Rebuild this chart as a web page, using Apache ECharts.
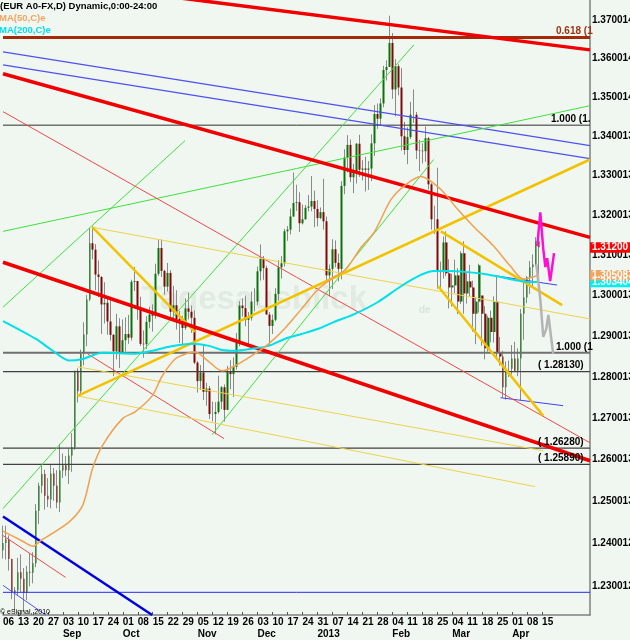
<!DOCTYPE html>
<html>
<head>
<meta charset="utf-8">
<script src="https://cdn.jsdelivr.net/npm/echarts@6/dist/echarts.min.js"></script>
<style>
html,body{margin:0;padding:0;background:#F0F7F0;}
#chart{width:630px;height:640px;}
</style>
</head>
<body>
<div id="chart"></div>
<script>
// ---------- categories (trading days) ----------
const startDate = '2012-08-06';
const categoryCount = 197;
const lastLabelIndex = 180;
const monthMarks = {'2012-09-03':'Sep','2012-10-01':'Oct','2012-11-05':'Nov','2012-12-03':'Dec',
  '2012-12-31':'2013','2013-02-04':'Feb','2013-03-04':'Mar','2013-04-01':'Apr'};

// ---------- daily candles, EUR A0-FX ----------
const openP = [
 1.2385,1.2402,1.2411,1.2364,1.2287,1.2291,1.2333,1.2318,1.2285,1.2334,1.2332,1.2354,1.2478,1.2538,1.2566,1.2514,1.2505,1.2567,1.2538,1.2498,
 1.2574,1.2587,1.2575,1.2610,1.2630,1.2815,1.2765,1.2856,1.2904,1.2990,1.3130,1.3114,1.3052,1.3046,1.2978,1.2982,1.2936,1.2903,1.2863,1.2924,
 1.2858,1.2890,1.2905,1.2896,1.3034,1.3036,1.2968,1.2881,1.2880,1.2935,1.2953,1.2950,1.3054,1.3118,1.3061,1.3022,1.3056,1.2960,1.2976,1.2942,1.2938,1.2920,1.2968,1.2960,1.2945,
 1.2835,1.2790,1.2811,1.2764,1.2772,1.2710,1.2710,1.2715,1.2740,1.2775,1.2720,1.2812,1.2807,1.2825,1.2885,1.2975,1.2969,1.2940,1.2945,1.2985,
 1.2985,1.3060,1.3091,1.3068,1.2953,1.2925,1.2940,1.3004,1.3070,1.3080,1.3160,1.3164,1.3197,1.3231,1.3233,1.3180,1.3190,1.3219,1.3222,1.3236,
 1.3216,1.3193,1.3208,1.3185,1.3050,1.3066,1.3115,1.3081,1.3066,1.3274,1.3346,1.3378,1.3296,1.3306,1.3381,1.3315,1.3318,1.3315,1.3318,1.3382,1.3457,1.3445,1.3484,1.3570,1.3578,
 1.3640,1.3520,1.3580,1.3525,1.3400,1.3365,1.3398,1.3455,1.3455,1.3364,1.3363,1.3362,1.3395,1.3278,1.3190,1.3190,1.3060,1.3058,1.3132,1.3055,
 1.3020,1.3025,1.3050,1.2985,1.3105,1.3005,1.3035,1.3020,1.2955,1.2985,1.3000,1.2955,1.2870,1.2945,1.2910,1.2985,1.2860,1.2850,1.2775,1.2820,
 1.2820,1.2845,1.2815,1.2845,1.2955,1.2995,1.3045,1.3070,1.3077,1.3135
];
const highP = [
 1.2443,1.2443,1.2420,1.2365,1.2298,1.2367,1.2375,1.2343,1.2348,1.2378,1.2380,1.2494,1.2545,1.2590,1.2576,1.2556,1.2590,1.2580,1.2575,1.2638,
 1.2615,1.2609,1.2626,1.2664,1.2815,1.2821,1.2867,1.2934,1.3001,1.3168,1.3172,1.3128,1.3087,1.3048,1.3033,1.2992,1.2997,1.2905,1.2955,1.2944,
 1.2941,1.2946,1.2952,1.3039,1.3071,1.3036,1.2997,1.2914,1.2949,1.2972,1.2978,1.3079,1.3140,1.3139,1.3064,1.3081,1.3063,1.3024,1.3013,1.2962,1.2950,1.2993,1.3007,1.2975,1.2963,
 1.2839,1.2829,1.2877,1.2786,1.2778,1.2740,1.2739,1.2803,1.2778,1.2782,1.2827,1.2841,1.2848,1.2908,1.2986,1.2993,1.3000,1.2959,1.3010,1.3018,
 1.3072,1.3127,1.3098,1.3074,1.2959,1.2953,1.3018,1.3088,1.3098,1.3166,1.3173,1.3217,1.3308,1.3277,1.3258,1.3227,1.3226,1.3251,1.3299,1.3262,
 1.3238,1.3220,1.3292,1.3197,1.3077,1.3140,1.3137,1.3104,1.3286,1.3367,1.3403,1.3392,1.3330,1.3383,1.3404,1.3339,1.3348,1.3337,1.3405,1.3480,1.3484,1.3497,1.3581,1.3595,1.3711,
 1.3666,1.3598,1.3585,1.3575,1.3437,1.3423,1.3488,1.3520,1.3462,1.3391,1.3382,1.3425,1.3398,1.3281,1.3224,1.3320,1.3084,1.3147,1.3160,1.3090,
 1.3054,1.3089,1.3068,1.3110,1.3135,1.3055,1.3076,1.3037,1.2995,1.3079,1.3000,1.2974,1.2950,1.2963,1.2998,1.3050,1.2898,1.2864,1.2838,1.2840,
 1.2878,1.2886,1.2870,1.2967,1.3034,1.3048,1.3086,1.3102,1.3145,1.3148
];
const lowP = [
 1.2365,1.2363,1.2337,1.2270,1.2241,1.2280,1.2287,1.2240,1.2268,1.2300,1.2307,1.2345,1.2447,1.2520,1.2481,1.2487,1.2484,1.2502,1.2484,1.2475,
 1.2556,1.2561,1.2542,1.2571,1.2624,1.2738,1.2759,1.2828,1.2875,1.2986,1.3090,1.3013,1.2996,1.2905,1.2931,1.2903,1.2889,1.2802,1.2843,1.2822,
 1.2857,1.2862,1.2881,1.2889,1.3011,1.2940,1.2876,1.2847,1.2868,1.2919,1.2911,1.2943,1.3049,1.3046,1.3002,1.3010,1.2944,1.2942,1.2916,1.2883,1.2877,1.2915,1.2941,1.2908,1.2831,
 1.2762,1.2769,1.2744,1.2730,1.2698,1.2692,1.2661,1.2711,1.2722,1.2692,1.2720,1.2770,1.2751,1.2818,1.2875,1.2948,1.2924,1.2879,1.2938,1.2961,
 1.2976,1.3037,1.3039,1.2953,1.2877,1.2905,1.2936,1.2987,1.3042,1.3072,1.3136,1.3152,1.3196,1.3211,1.3158,1.3177,1.3189,1.3210,1.3210,1.3170,
 1.3172,1.3190,1.3164,1.3032,1.2998,1.3016,1.3070,1.3035,1.3040,1.3253,1.3308,1.3284,1.3256,1.3280,1.3297,1.3288,1.3260,1.3264,1.3286,1.3350,1.3419,1.3427,1.3474,1.3543,1.3578,
 1.3496,1.3451,1.3505,1.3364,1.3353,1.3329,1.3393,1.3434,1.3342,1.3311,1.3331,1.3335,1.3265,1.3164,1.3153,1.3017,1.3018,1.3042,1.3048,1.2968,
 1.2973,1.3006,1.2954,1.2979,1.2955,1.2980,1.2998,1.2911,1.2880,1.2958,1.2876,1.2843,1.2862,1.2885,1.2884,1.2848,1.2828,1.2750,1.2745,1.2800,
 1.2806,1.2812,1.2802,1.2744,1.2891,1.2981,1.3004,1.3022,1.3072,1.3043
];
const closeP = [
 1.2402,1.2411,1.2364,1.2287,1.2291,1.2333,1.2318,1.2285,1.2334,1.2332,1.2354,1.2478,1.2538,1.2566,1.2514,1.2505,1.2567,1.2538,1.2498,1.2574,
 1.2587,1.2575,1.2610,1.2630,1.2815,1.2765,1.2856,1.2904,1.2990,1.3130,1.3114,1.3052,1.3046,1.2978,1.2982,1.2936,1.2903,1.2863,1.2924,1.2858,
 1.2890,1.2905,1.2896,1.3034,1.3036,1.2968,1.2881,1.2880,1.2935,1.2953,1.2950,1.3054,1.3118,1.3061,1.3022,1.3056,1.2960,1.2976,1.2942,1.2938,1.2920,1.2968,1.2960,1.2945,1.2835,
 1.2790,1.2811,1.2764,1.2772,1.2710,1.2710,1.2715,1.2740,1.2775,1.2720,1.2812,1.2807,1.2825,1.2885,1.2975,1.2969,1.2940,1.2945,1.2985,1.2985,
 1.3060,1.3091,1.3068,1.2953,1.2925,1.2940,1.3004,1.3070,1.3080,1.3160,1.3164,1.3197,1.3231,1.3233,1.3180,1.3190,1.3219,1.3222,1.3236,1.3216,
 1.3193,1.3208,1.3185,1.3050,1.3066,1.3115,1.3081,1.3066,1.3274,1.3346,1.3378,1.3296,1.3306,1.3381,1.3315,1.3318,1.3315,1.3318,1.3382,1.3457,1.3445,1.3484,1.3570,1.3578,1.3640,
 1.3520,1.3580,1.3525,1.3400,1.3365,1.3398,1.3455,1.3455,1.3364,1.3363,1.3362,1.3395,1.3278,1.3190,1.3190,1.3060,1.3058,1.3132,1.3055,1.3020,
 1.3025,1.3050,1.2985,1.3105,1.3005,1.3035,1.3020,1.2955,1.2985,1.3075,1.2955,1.2870,1.2945,1.2910,1.2985,1.2860,1.2850,1.2775,1.2820,1.2820,
 1.2845,1.2815,1.2845,1.2955,1.2995,1.3045,1.3070,1.3077,1.3135,1.3120
];

// ---------- moving averages: [bar index, price] ----------
const ma50Pts = [[0,1.2430],[6.6,1.2406],[10,1.2394],[12.3,1.2406],[16.6,1.2425],[22.3,1.2453],[26.6,1.2491],[29.9,1.2579],[33.2,1.2634],[39.9,1.2699],[44.2,1.2716],[49.8,1.2754],[53.2,1.2803],[57.5,1.2844],[62.1,1.2859],[64.1,1.2861],[68.8,1.2837],[73.1,1.2815],[77.4,1.2827],[83.1,1.2852],[88.7,1.2881],[94,1.2918],[99.7,1.2967],[105.3,1.3016],[110.6,1.3046],[114.6,1.3066],[119.6,1.3120],[123.9,1.3157],[129.6,1.3240],[134.6,1.3278],[139.5,1.3298],[146.2,1.3265],[151.8,1.3215],[157.1,1.3172],[163.8,1.3123],[169.4,1.3073],[173.8,1.3041],[179,1.3051]];
const ma200Pts = [[0,1.2937],[11,1.2893],[16.6,1.2864],[22.3,1.2840],[26.6,1.2844],[33.2,1.2859],[44.2,1.2857],[49.8,1.2864],[55.5,1.2874],[63.1,1.2881],[68.8,1.2876],[73.1,1.2866],[77.4,1.2864],[83.1,1.2869],[88.7,1.2876],[94,1.2893],[99.7,1.2905],[105.3,1.2918],[110.6,1.2935],[117.3,1.2954],[125.2,1.2984],[132.9,1.3023],[139.5,1.3051],[143.9,1.3061],[149.5,1.3061],[155.1,1.3058],[161.1,1.3053],[166.1,1.3046],[171.1,1.3038],[176.1,1.3033],[179,1.3034]];

// ---------- drawn trend lines: [bar index, price] ----------
const redThickTop = [[56.5,1.37599],[196,1.36222]];
const redThickMid = [[0,1.35603],[196,1.31447]];
const redThickLow = [[0,1.30825],[196,1.25976]];
const redThin1 = [[0,1.34629],[196,1.26407]];
const redThin2 = [[28.2,1.28565],[73.8,1.26508]];
const redThin3 = [[0,1.24195],[20.9,1.23210]];
const blueUp1 = [[0,1.36170],[196,1.33763]];
const blueUp2 = [[0,1.35835],[196,1.33433]];
const blueShort1 = [[165.1,1.30481],[185.0,1.30259]];
const blueShort2 = [[166.1,1.27496],[187.0,1.27303]];
const blueThick = [[0,1.24644],[49.8,1.22331]];
const blueThin = [[0,1.23023],[14.3,1.22331]];
const greenLong = [[0,1.31597],[196,1.34782]];
const greenA = [[0,1.29712],[60.8,1.33890]];
const greenB = [[0,1.24833],[137.2,1.36351]];
const greenC = [[69.8,1.26599],[143.8,1.33409]];
const yellowThick1 = [[24.9,1.27539],[196,1.33409]];
const yellowThick2 = [[29.9,1.31697],[64.1,1.29102]];
const yellowThick3 = [[146.2,1.31597],[186.7,1.29761]];
const yellowThick4 = [[145.2,1.30234],[180.4,1.27056]];
const yellowThin1 = [[29.9,1.31697],[196,1.29421]];
const yellowThin2 = [[24.9,1.28249],[180.4,1.26215]];
const yellowThin3 = [[24.9,1.27539],[177.7,1.25356]];
const projMagenta = [[178.4,1.31226],[179.4,1.32072],[180.4,1.31151],[181.1,1.30705],[181.7,1.30928],[182.7,1.30358],[184.0,1.31052]];
const projGray = [[178.1,1.30775],[179.4,1.29913],[180.4,1.28980],[181.4,1.29176],[182.1,1.29520],[183.7,1.28565]];

// ---------- horizontal levels ----------
const levelFib618 = 1.36546;
const levelFibTop = 1.34284;
const levelFibLow = 1.28590;
const level1 = 1.28130;
const level2 = 1.26280;
const level3 = 1.25890;
const levelBlue = 1.22860;

// ---------- axis ----------
const yMin = 1.22331, yMax = 1.37521;
const yTickVals = [1.370014,1.360014,1.350014,1.340013,1.330013,1.320013,1.310013,1.300013,1.290013,1.280013,1.270013,1.260013,1.250013,1.240012,1.230012];
const yTickLabels = ['1.370014','1.360014','1.350014','1.340013','1.330013','1.320013','1.310013','1.300013','1.290013','1.280013','1.270013','1.260013','1.250013','1.240012','1.230012'];
const lastPrice = 1.31200, lastMa50 = 1.305083, lastMa200 = 1.303404;

// build categories
const dates = [];
(function(){
  let t = Date.UTC(2012,7,6);
  while (dates.length < categoryCount) {
    const d = new Date(t);
    const wd = d.getUTCDay();
    if (wd >= 1 && wd <= 5) dates.push(d.toISOString().slice(0,10));
    t += 86400000;
  }
})();

const candleData = dates.map((_, i) => i < closeP.length ? [openP[i], closeP[i], lowP[i], highP[i]] : '-');
const bodyData = dates.map((_, i) => i < closeP.length ? [openP[i], closeP[i], Math.min(openP[i], closeP[i]), Math.max(openP[i], closeP[i])] : '-');

const FONT = '"Liberation Sans", Arial, sans-serif';
const lastK = categoryCount - 1;

function seg(data, color, width, z) {
  return {type:'line', xAxisIndex:1, yAxisIndex:0, data:data, symbol:'none', silent:true, clip:true,
    z: z || 3, lineStyle:{color:color, width:width}, emphasis:{disabled:true}};
}
function hline(v, color, width) { return seg([[0, v],[lastK, v]], color, width); }

const chart = echarts.init(document.getElementById('chart'), null, {renderer:'canvas'});
const option = {
  animation:false,
  backgroundColor:'#F0F7F0',
  grid:{left:0, right:40, top:0, bottom:23},
  xAxis:[
    {type:'category', data:dates, boundaryGap:false,
     axisLine:{show:true, onZero:false, lineStyle:{color:'#808080', width:1.5}},
     axisTick:{show:true, inside:true, length:3, interval:(i)=> i % 5 === 0 && i <= lastLabelIndex, lineStyle:{color:'#555'}},
     axisLabel:{interval:(i)=> i % 5 === 0 && i <= lastLabelIndex, align:'left', margin:1,
       fontFamily:FONT, fontWeight:'bold', fontSize:10, color:'#000', lineHeight:12,
       formatter:(v)=> v.slice(8) + (monthMarks[v] ? '\n' + monthMarks[v] : '')},
     splitLine:{show:false}},
    {type:'value', min:0, max:lastK, show:false}
  ],
  yAxis:[{type:'log', logBase:10, position:'right', min:yMin, max:yMax,
    axisLine:{show:true, onZero:false, lineStyle:{color:'#808080', width:1.5}},
    axisTick:{show:false}, axisLabel:{show:false}, splitLine:{show:false}}],
  series:[
    {type:'candlestick', xAxisIndex:0, yAxisIndex:0, data:candleData, barWidth:1, silent:true, z:2,
     itemStyle:{color:'#8a8a8a', color0:'#8a8a8a', borderColor:'#8a8a8a', borderColor0:'#8a8a8a', borderWidth:1}},
    {type:'candlestick', xAxisIndex:0, yAxisIndex:0, data:bodyData, barWidth:2.2, silent:true, z:2,
     itemStyle:{color:'#0A720A', color0:'#800808', borderWidth:0}},
    hline(levelFib618, '#A52A0A', 3),
    hline(levelFibTop, '#303030', 1),
    hline(levelFibLow, '#707070', 2),
    hline(level1, '#404040', 1.2),
    hline(level2, '#404040', 1.2),
    hline(level3, '#404040', 1.2),
    hline(levelBlue, '#2828FF', 1),
    seg(blueUp1, '#5050F0', 1.3),
    seg(blueUp2, '#5050F0', 1.3),
    seg(blueShort1, '#4040F0', 1),
    seg(blueShort2, '#4040F0', 1),
    seg(blueThick, '#0000E0', 2.5),
    seg(blueThin, '#5050F0', 1),
    seg(greenLong, '#40E040', 1),
    seg(greenA, '#40E040', 1),
    seg(greenB, '#40E040', 1),
    seg(greenC, '#40E040', 1),
    seg(redThin1, '#F04848', 1),
    seg(redThin2, '#F04848', 1),
    seg(redThin3, '#F04848', 1),
    seg(yellowThin1, '#EDD34A', 1),
    seg(yellowThin2, '#EDD34A', 1),
    seg(yellowThin3, '#EDD34A', 1),
    seg(yellowThick1, '#F2C200', 2.5),
    seg(yellowThick2, '#F2C200', 2.5),
    seg(yellowThick3, '#F2C200', 2.5),
    seg(yellowThick4, '#F2C200', 2.5),
    seg(redThickTop, '#F00000', 3.5),
    seg(redThickMid, '#F00000', 3.5),
    seg(redThickLow, '#F00000', 3.5),
    Object.assign(seg(ma200Pts, '#00E0E8', 2, 4), {smooth:0.3}),
    Object.assign(seg(ma50Pts, '#F0A050', 1.5, 4), {smooth:0.3}),
    seg(projGray, '#B4B4B4', 2.5, 5),
    seg(projMagenta, '#FF10D0', 2.5, 5)
  ]
};
chart.setOption(option);

const yPix = v => chart.convertToPixel({yAxisIndex:0}, v);
const g = [];
// watermark
g.push({type:'text', x:142, y:300, z:0, style:{text:'Tagesausblick', font:'bold 33px ' + FONT, fill:'rgba(200,215,200,0.38)', verticalAlign:'middle'}});
g.push({type:'text', x:419, y:310, z:0, style:{text:'de', font:'bold 10px ' + FONT, fill:'rgba(200,215,200,0.55)', verticalAlign:'middle'}});
// legend
g.push({type:'text', x:0, y:6, z:10, style:{text:'(EUR A0-FX,D) Dynamic,0:00-24:00', font:'bold 9.5px ' + FONT, fill:'#000', verticalAlign:'middle'}});
g.push({type:'text', x:-1, y:18, z:10, style:{text:'MA(50,C)e', font:'bold 9.5px ' + FONT, fill:'#F4A460', verticalAlign:'middle'}});
g.push({type:'text', x:-1, y:30, z:10, style:{text:'MA(200,C)e', font:'bold 9.5px ' + FONT, fill:'#00E0F0', verticalAlign:'middle'}});
// level labels
const lvlLabels = [
  [levelFib618, 556, '0.618 (1', '#9A3412'],
  [levelFibTop, 551, '1.000 (1.', '#000'],
  [levelFibLow, 556, '1.000 (1', '#000'],
  [level1, 538, '( 1.28130)', '#000'],
  [level2, 538, '( 1.26280)', '#000'],
  [level3, 538, '( 1.25890)', '#000']
];
lvlLabels.forEach(l => g.push({type:'text', x:l[1], y:yPix(l[0]) - 6, z:10,
  style:{text:l[2], font:'bold 10px ' + FONT, fill:l[3], verticalAlign:'middle'}}));
// y tick labels
yTickVals.forEach((v, i) => g.push({type:'text', x:592, y:yPix(v), z:10,
  style:{text:yTickLabels[i], font:'bold 10px ' + FONT, fill:'#000', verticalAlign:'middle'}}));
// price boxes
function box(v, fill, label) {
  const py = yPix(v);
  g.push({type:'rect', z:11, shape:{x:590, y:py - 5, width:40, height:10.5}, style:{fill:fill}});
  g.push({type:'text', x:592, y:py, z:12, style:{text:label, font:'bold 10px ' + FONT, fill:'#fff', verticalAlign:'middle'}});
}
box(lastMa200, '#00F0F0', '1.303404');
box(lastMa50, '#F4A460', '1.305083');
box(lastPrice, '#FF0000', '1.31200');
// copyright
g.push({type:'text', x:0, y:612, z:10, style:{text:'\u00A9 eSignal, 2010', font:'7px ' + FONT, fill:'#000', verticalAlign:'middle'}});
chart.setOption({graphic:g});
</script>
</body>
</html>
